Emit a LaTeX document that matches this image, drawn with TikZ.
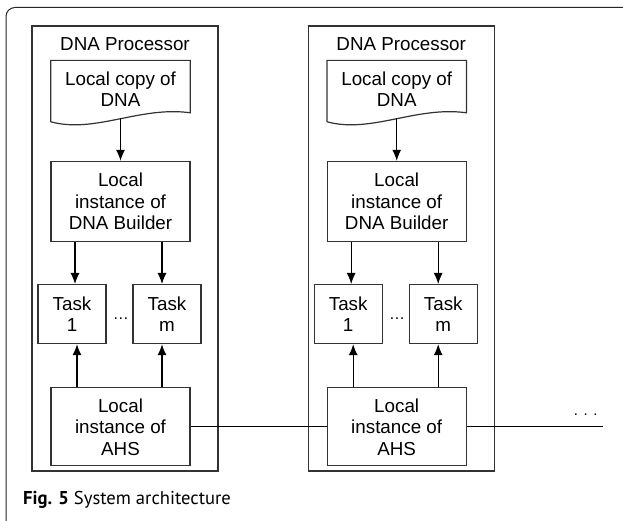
\documentclass[tikz,border=0pt]{standalone}
\usepackage{fontspec}
\setmainfont{Liberation Sans}
\newfontfamily\captionfont{PT Sans}
\usepackage{tikz}
\usetikzlibrary{shapes.geometric, arrows, arrows.meta, positioning}
\newcommand{\boxfont}{\fontsize{18.8}{21.5}\selectfont}
\tikzstyle{processor} = [rectangle, draw=black!80, line width=1.2pt, minimum width=186pt, minimum height=445pt]
\tikzstyle{proctitle} = [inner sep=0pt, font=\boxfont]
\tikzstyle{docshape} = [rectangle, align=center, minimum width=139pt, minimum height=57pt, inner sep=0pt, font=\boxfont]
\tikzstyle{outline} = [draw=black!80, line width=1.2pt]
\tikzstyle{block} = [rectangle, draw=black!80, line width=1.2pt, align=center, minimum width=139pt, minimum height=80pt, inner sep=0pt, font=\boxfont]
\tikzstyle{task} = [block, minimum width=68pt, minimum height=59pt]
\tikzstyle{arrow} = [-{Latex[length=11pt, width=9pt]}, line width=1.1pt]
\tikzstyle{link} = [line width=1pt]
\tikzstyle{pageframe} = [draw=black!85, line width=1pt, rounded corners=9pt]

\begin{document}
\begin{tikzpicture}[x=1pt, y=1pt]
\useasboundingbox (0,0) rectangle (623,521);
\draw[pageframe] (6,0) -- (6,513.5) -- (623,513.5);

% first processor
\node[processor] (proc1) at (125,272.5) {};
\node[proctitle, below=12pt of proc1.north] (title1) {DNA Processor};
\node[docshape, below=35pt of proc1.north, xshift=-4.5pt] (doc1) {Local copy of\\DNA};
\node[block, below=43pt of doc1] (build1) {Local\\instance of\\DNA Builder};
\node[task, below=42pt of build1, xshift=-48.5pt] (task1) {Task\\1};
\node[task, below=42pt of build1, xshift=46.5pt] (taskm1) {Task\\m};
\node[inner sep=0pt, font=\fontsize{16}{18}\selectfont, right=6pt of task1, yshift=-4.5pt] (dots1) {…};
\node[block, minimum height=78pt, below=43pt of task1, xshift=48.5pt] (ahs1) {Local\\instance of\\AHS};

% second processor
\node[processor, right=89pt of proc1] (proc2) {};
\node[proctitle, below=12pt of proc2.north] (title2) {DNA Processor};
\node[docshape, below=35pt of proc2.north, xshift=-4.5pt] (doc2) {Local copy of\\DNA};
\node[block, below=43pt of doc2] (build2) {Local\\instance of\\DNA Builder};
\node[task, below=42pt of build2, xshift=-48.5pt] (task2) {Task\\1};
\node[task, below=42pt of build2, xshift=46.5pt] (taskm2) {Task\\m};
\node[inner sep=0pt, font=\fontsize{16}{18}\selectfont, right=6pt of task2, yshift=-4.5pt] (dots2) {…};
\node[block, minimum height=78pt, below=43pt of task2, xshift=48.5pt] (ahs2) {Local\\instance of\\AHS};

% document outlines with wavy bottom
\draw[outline] ([yshift=-4pt]doc1.south west) -- (doc1.north west) -- (doc1.north east) -- ([yshift=5pt]doc1.south east) .. controls +(-50,7) and +(44,-12) .. ([yshift=-4pt]doc1.south west);
\draw[outline] ([yshift=-4pt]doc2.south west) -- (doc2.north west) -- (doc2.north east) -- ([yshift=5pt]doc2.south east) .. controls +(-50,7) and +(44,-12) .. ([yshift=-4pt]doc2.south west);

% arrows inside the processors
\draw[arrow] (doc1) -- (build1);
\draw[arrow] ([xshift=3pt]task1.north |- build1.south) -- ([xshift=3pt]task1.north);
\draw[arrow] ([xshift=-5pt]taskm1.north |- build1.south) -- ([xshift=-5pt]taskm1.north);
\draw[arrow] ([xshift=5pt]task1.south |- ahs1.north) -- ([xshift=5pt]task1.south);
\draw[arrow] ([xshift=-5pt]taskm1.south |- ahs1.north) -- ([xshift=-5pt]taskm1.south);

\draw[arrow] (doc2) -- (build2);
\draw[arrow] ([xshift=3pt]task2.north |- build2.south) -- ([xshift=3pt]task2.north);
\draw[arrow] ([xshift=-5pt]taskm2.north |- build2.south) -- ([xshift=-5pt]taskm2.north);
\draw[arrow] ([xshift=5pt]task2.south |- ahs2.north) -- ([xshift=5pt]task2.south);
\draw[arrow] ([xshift=-5pt]taskm2.south |- ahs2.north) -- ([xshift=-5pt]taskm2.south);

% AHS link
\coordinate[right=136pt of ahs2] (lineend);
\draw[link] (ahs1) -- (ahs2);
\draw[link] (ahs2) -- (lineend);
\node[inner sep=0pt, font=\fontsize{15}{18}\selectfont, above left=11pt and 5pt of lineend] (more) {. . .};

\node[anchor=base west, inner sep=0pt, font=\captionfont\fontsize{18.6}{22}\selectfont] (caption) at (23,16) {\textbf{Fig. 5} System architecture};

\end{tikzpicture}
\end{document}
